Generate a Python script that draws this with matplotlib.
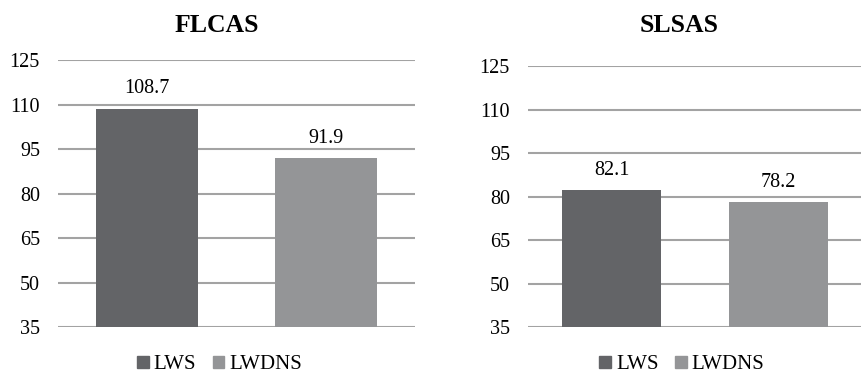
import numpy as np
import matplotlib.pyplot as plt
from matplotlib.patches import Patch

plt.switch_backend("Agg")
plt.rcParams["font.family"] = ["Liberation Serif", "DejaVu Serif"]

# 数据
series = ["LWS", "LWDNS"]
flcas_vals = [108.7, 91.9]
slsas_vals = [82.1, 78.2]
yticks = [35, 50, 65, 80, 95, 110, 125]
colors = ["#636467", "#949597"]
GRID = "#a3a3a3"

fig = plt.figure(figsize=(8.62, 3.76), dpi=100)

panels = [
    ("FLCAS", flcas_vals, [0.0673, 0.130, 0.414, 0.710], 0.57, 0.252, (0.255, 0.004)),
    ("SLSAS", slsas_vals, [0.6125, 0.130, 0.3875, 0.6945], 0.59, 0.788, (0.791, 0.004)),
]

for title, vals, rect, bw, tx, leg_pos in panels:
    ax = fig.add_axes(rect)
    x = np.arange(len(series))
    bars = ax.bar(x, vals, bw, color=colors, zorder=3)
    ax.set_ylim(35, 125)
    ax.set_xlim(-0.5, 1.5)
    ax.set_yticks(yticks)
    ax.set_xticks([])
    ax.grid(axis="y", color=GRID, linewidth=1.5, zorder=0)
    for s in ax.spines.values():
        s.set_visible(False)
    ax.tick_params(axis="y", length=0, pad=13, labelsize=14.5)
    for b, v in zip(bars, vals):
        ax.text(b.get_x() + b.get_width() / 2, v + 3.5, f"{v}",
                ha="center", va="bottom", fontsize=14.5)
    fig.text(tx, 0.931, title, ha="center", va="center",
             fontsize=18.5, fontweight="bold")
    handles = [Patch(color=c, label=s) for c, s in zip(colors, series)]
    fig.legend(handles=handles, loc="lower center", bbox_to_anchor=leg_pos,
               ncol=2, frameon=False, fontsize=15, handlelength=0.55,
               handleheight=0.55, handletextpad=0.25, columnspacing=0.8,
               borderaxespad=0.0, borderpad=0.0)

fig.savefig("out.png", dpi=100)
plt.close(fig)
